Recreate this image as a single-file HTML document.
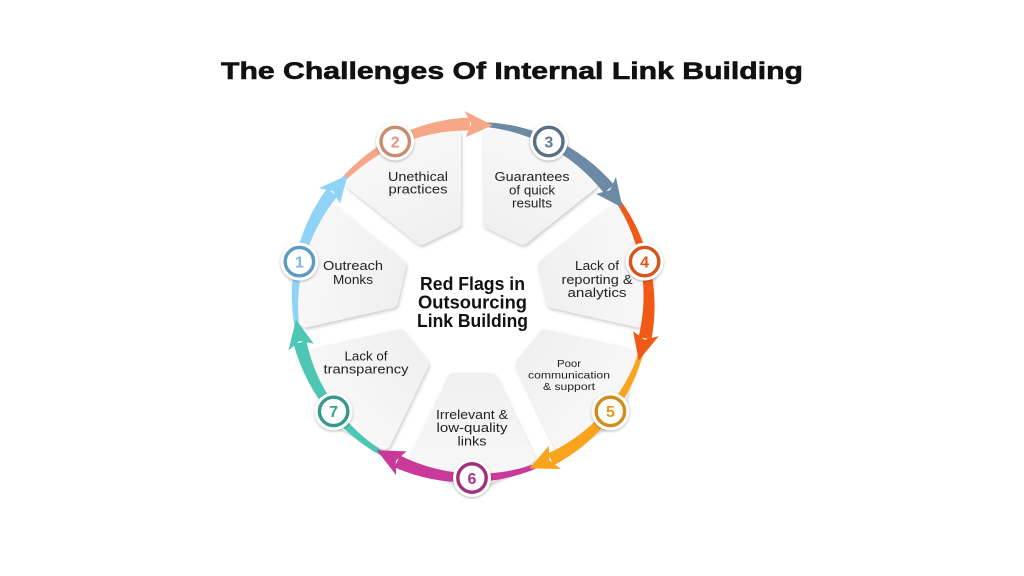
<!DOCTYPE html>
<html><head><meta charset="utf-8"><style>
html,body{margin:0;padding:0;background:#fff;}
svg{display:block;}
text{font-family:"Liberation Sans",Arial,sans-serif;}
</style></head><body>
<svg width="1024" height="576" viewBox="0 0 1024 576" xmlns="http://www.w3.org/2000/svg" xmlns:xlink="http://www.w3.org/1999/xlink">
<defs>
<filter id="cs" x="-20%" y="-20%" width="140%" height="140%"><feDropShadow dx="1" dy="2" stdDeviation="1.6" flood-color="#000" flood-opacity="0.2"/></filter>
<filter id="bs" x="-30%" y="-30%" width="160%" height="160%"><feDropShadow dx="0" dy="1" stdDeviation="1.3" flood-color="#000" flood-opacity="0.3"/></filter>
<linearGradient id="cg" gradientUnits="userSpaceOnUse" x1="0" y1="-190" x2="0" y2="-72">
<stop offset="0" stop-color="#f9f9f9"/><stop offset="1" stop-color="#f0f0f0"/>
</linearGradient>
<polygon id="card" points="0,-184.3 56.7,-157 18.7,-78 -18.7,-78 -56.7,-157"/>
<path id="body" d="M-76.1,-160.9 A180,180 0 0 1 77.1,-165.4 L71.6,-153.6 A172,172 0 0 0 -74.4,-157.3 Z"/>
<path id="head" d="M75.4,-173.3 L94.6,-148.4 L65.0,-149.5 L75.8,-158.9 Z"/>
</defs>
<rect width="1024" height="576" fill="#fff"/>

<text x="512" y="79" text-anchor="middle" font-size="24" font-weight="700" textLength="582" lengthAdjust="spacingAndGlyphs" fill="#111" stroke="#111" stroke-width="0.6">The Challenges Of Internal Link Building</text>

<!-- cards -->
<g filter="url(#cs)">
 <g transform="translate(472,301)" fill="url(#cg)" stroke="url(#cg)" stroke-width="12" stroke-linejoin="round">
  <use href="#card" xlink:href="#card" transform="rotate(-77.14)"/>
  <use href="#card" xlink:href="#card" transform="rotate(-25.71)"/>
  <use href="#card" xlink:href="#card" transform="rotate(25.71)"/>
  <use href="#card" xlink:href="#card" transform="rotate(77.14)"/>
  <use href="#card" xlink:href="#card" transform="rotate(128.57)"/>
  <use href="#card" xlink:href="#card" transform="rotate(180)"/>
  <use href="#card" xlink:href="#card" transform="rotate(231.43)"/>
 </g>
</g>

<!-- arcs -->
<g transform="translate(472,301) scale(1.0057)">
 <use href="#body" xlink:href="#body" fill="#8fd3f7" transform="rotate(-77.14)"/>
 <use href="#body" xlink:href="#body" fill="#f5a788" transform="rotate(-25.71)"/>
 <use href="#body" xlink:href="#body" fill="#6d8aa5" transform="rotate(25.71)"/>
 <use href="#body" xlink:href="#body" fill="#f15a16" transform="rotate(77.14)"/>
 <use href="#body" xlink:href="#body" fill="#f8a41f" transform="rotate(128.57)"/>
 <use href="#body" xlink:href="#body" fill="#c9399a" transform="rotate(180)"/>
 <use href="#body" xlink:href="#body" fill="#4dc6b3" transform="rotate(231.43)"/>
 <use href="#head" xlink:href="#head" fill="#8fd3f7" transform="rotate(-77.14)"/>
 <use href="#head" xlink:href="#head" fill="#f5a788" transform="rotate(-25.71)"/>
 <use href="#head" xlink:href="#head" fill="#6d8aa5" transform="rotate(25.71)"/>
 <use href="#head" xlink:href="#head" fill="#f15a16" transform="rotate(77.14)"/>
 <use href="#head" xlink:href="#head" fill="#f8a41f" transform="rotate(128.57)"/>
 <use href="#head" xlink:href="#head" fill="#c9399a" transform="rotate(180)"/>
 <use href="#head" xlink:href="#head" fill="#4dc6b3" transform="rotate(231.43)"/>
</g>

<!-- badges -->
<g filter="url(#bs)" fill="#fff">
 <circle cx="299.4" cy="261.6" r="19"/>
 <circle cx="395.2" cy="141.5" r="19"/>
 <circle cx="548.8" cy="141.5" r="19"/>
 <circle cx="644.6" cy="261.6" r="19"/>
 <circle cx="610.4" cy="411.4" r="19"/>
 <circle cx="472" cy="478" r="19"/>
 <circle cx="333.6" cy="411.4" r="19"/>
</g>
<g fill="#fff" stroke-width="3.4">
 <circle cx="299.4" cy="261.6" r="14.2" stroke="#5b9bc4"/>
 <circle cx="395.2" cy="141.5" r="14.2" stroke="#c98b6e"/>
 <circle cx="548.8" cy="141.5" r="14.2" stroke="#5a6f86"/>
 <circle cx="644.6" cy="261.6" r="14.2" stroke="#d4541b"/>
 <circle cx="610.4" cy="411.4" r="14.2" stroke="#d18c1d"/>
 <circle cx="472" cy="478" r="14.2" stroke="#9f2f7d"/>
 <circle cx="333.6" cy="411.4" r="14.2" stroke="#34998a"/>
</g>
<g font-size="16" font-weight="700" text-anchor="middle">
 <text x="299.4" y="267.4" fill="#79b8df">1</text>
 <text x="395.2" y="147.3" fill="#e0977a">2</text>
 <text x="548.8" y="147.3" fill="#607a94">3</text>
 <text x="644.6" y="267.4" fill="#e0561a">4</text>
 <text x="610.4" y="417.2" fill="#e5971f">5</text>
 <text x="472" y="483.8" fill="#a93587">6</text>
 <text x="333.6" y="417.2" fill="#3aa292">7</text>
</g>

<!-- center text -->
<g font-size="18" font-weight="700" text-anchor="middle" fill="#111">
 <text x="472.5" y="290" textLength="105" lengthAdjust="spacingAndGlyphs">Red Flags in</text>
 <text x="472.5" y="308.5" textLength="109" lengthAdjust="spacingAndGlyphs">Outsourcing</text>
 <text x="472.5" y="327" textLength="111" lengthAdjust="spacingAndGlyphs">Link Building</text>
</g>

<!-- labels -->
<g font-size="13" text-anchor="middle" fill="#222">
 <text x="353" y="270" textLength="60" lengthAdjust="spacingAndGlyphs">Outreach</text>
 <text x="353" y="284" textLength="40" lengthAdjust="spacingAndGlyphs">Monks</text>

 <text x="418" y="181" textLength="60" lengthAdjust="spacingAndGlyphs">Unethical</text>
 <text x="418" y="193.5" textLength="59" lengthAdjust="spacingAndGlyphs">practices</text>

 <text x="532" y="181" textLength="75" lengthAdjust="spacingAndGlyphs">Guarantees</text>
 <text x="532" y="194.5" textLength="46" lengthAdjust="spacingAndGlyphs">of quick</text>
 <text x="532" y="207.5" textLength="40" lengthAdjust="spacingAndGlyphs">results</text>

 <text x="597" y="270" textLength="44" lengthAdjust="spacingAndGlyphs">Lack of</text>
 <text x="597" y="284" textLength="71" lengthAdjust="spacingAndGlyphs">reporting &amp;</text>
 <text x="597" y="297" textLength="59" lengthAdjust="spacingAndGlyphs">analytics</text>

 <text x="472" y="419" textLength="72" lengthAdjust="spacingAndGlyphs">Irrelevant &amp;</text>
 <text x="472" y="432" textLength="71" lengthAdjust="spacingAndGlyphs">low-quality</text>
 <text x="472" y="445.5" textLength="29" lengthAdjust="spacingAndGlyphs">links</text>

 <text x="366" y="360.5" textLength="43" lengthAdjust="spacingAndGlyphs">Lack of</text>
 <text x="366" y="373.5" textLength="85" lengthAdjust="spacingAndGlyphs">transparency</text>
</g>
<g font-size="10.5" text-anchor="middle" fill="#222">
 <text x="569" y="367" textLength="24" lengthAdjust="spacingAndGlyphs">Poor</text>
 <text x="569" y="378.5" textLength="82" lengthAdjust="spacingAndGlyphs">communication</text>
 <text x="569" y="390" textLength="52" lengthAdjust="spacingAndGlyphs">&amp; support</text>
</g>
</svg>
</body></html>
